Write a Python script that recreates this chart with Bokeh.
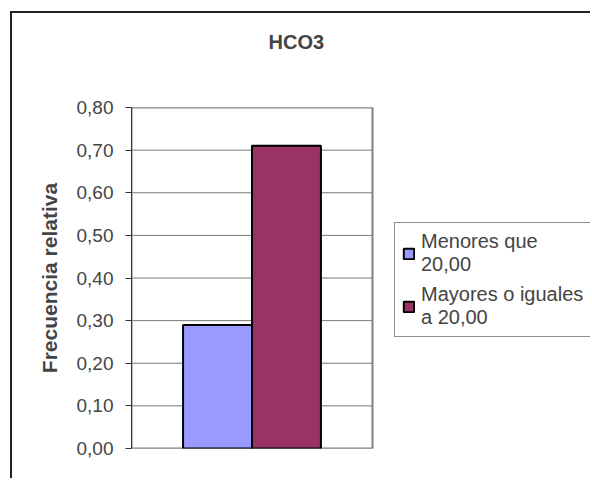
import numpy as np
from bokeh.plotting import figure
from bokeh.models import Range1d, CustomJSTickFormatter, Legend, LegendItem, FixedTicker, Title, ColumnDataSource
from bokeh.transform import dodge
from bokeh.embed import file_html
from bokeh.resources import INLINE

categories = ["HCO3"]
menores = [0.29]
mayores = [0.71]
series_labels = ["Menores que\n20,00", "Mayores o iguales\na 20,00"]
y_ticks = [0.0, 0.1, 0.2, 0.3, 0.4, 0.5, 0.6, 0.7, 0.8]

FONT = "Liberation Sans"
AREA_W = 241      # pixel width of the plot area (one category slot)
FRAME_W = 459     # frame extends to the right so the legend fits inside it

p = figure(x_range=Range1d(0, FRAME_W / AREA_W), y_range=Range1d(y_ticks[0], y_ticks[-1]),
           frame_width=FRAME_W, frame_height=341, output_backend="svg", toolbar_location=None,
           min_border_left=119, min_border_right=0, min_border_top=94, min_border_bottom=30)
p.styles = {"margin-left": "10px", "margin-top": "11px",
            "border-left": "2px solid #222", "border-top": "2px solid #222"}
p.title.text = ""

spacer = Title(text=" ", text_font_size="1px", standoff=52)
p.add_layout(spacer, "above")
title = Title(text="HCO3", align="left", offset=137, standoff=0,
              text_font=FONT, text_font_size="20px", text_font_style="bold")
p.add_layout(title, "above")

src = ColumnDataSource(dict(cat=categories, x=np.arange(len(categories)) + 0.5,
                            menores=menores, mayores=mayores))

# plot-area grid lines and border
p.segment(x0=0, x1=len(categories), y0=y_ticks, y1=y_ticks, line_color="#7a7a7a", line_width=1)
p.quad(left=0, right=len(categories), bottom=y_ticks[0], top=y_ticks[-1],
       fill_color=None, line_color="#808080", line_width=2)

r1 = p.vbar(x=dodge("x", -0.143), top="menores", width=0.286, source=src,
            fill_color="#9999FF", line_color="black", line_width=2)
r2 = p.vbar(x=dodge("x", 0.143), top="mayores", width=0.286, source=src,
            fill_color="#993366", line_color="black", line_width=2)

p.xaxis.visible = False
p.xgrid.visible = False
p.ygrid.visible = False
p.outline_line_color = None

p.yaxis.ticker = FixedTicker(ticks=y_ticks)
p.yaxis.formatter = CustomJSTickFormatter(code="return tick.toFixed(2).replace('.', ',');")
p.yaxis.axis_label = "Frecuencia relativa"
p.yaxis.axis_label_text_font = FONT
p.yaxis.axis_label_text_font_size = "21px"
p.yaxis.axis_label_text_font_style = "bold"
p.yaxis.axis_label_standoff = 13
p.yaxis.major_label_text_font = FONT
p.yaxis.major_label_text_font_size = "19px"
p.yaxis.major_label_standoff = 12
p.yaxis.major_tick_out = 6
p.yaxis.major_tick_in = 0
p.yaxis.minor_tick_line_color = None
p.yaxis.axis_line_color = "#333333"
p.yaxis.major_tick_line_color = "#333333"

legend = Legend(items=[LegendItem(label=series_labels[0], renderers=[r1]),
                       LegendItem(label=series_labels[1], renderers=[r2])],
                location=(263, 111))
legend.label_text_font = FONT
legend.label_text_font_size = "20px"
legend.border_line_color = "#222222"
legend.border_line_width = 1
legend.glyph_width = 13
legend.glyph_height = 13
legend.spacing = 7
legend.padding = 7
legend.margin = 0
legend.label_standoff = 6
legend.label_width = 180
p.add_layout(legend, "center")

open("out.html", "w").write(file_html(p, INLINE))
